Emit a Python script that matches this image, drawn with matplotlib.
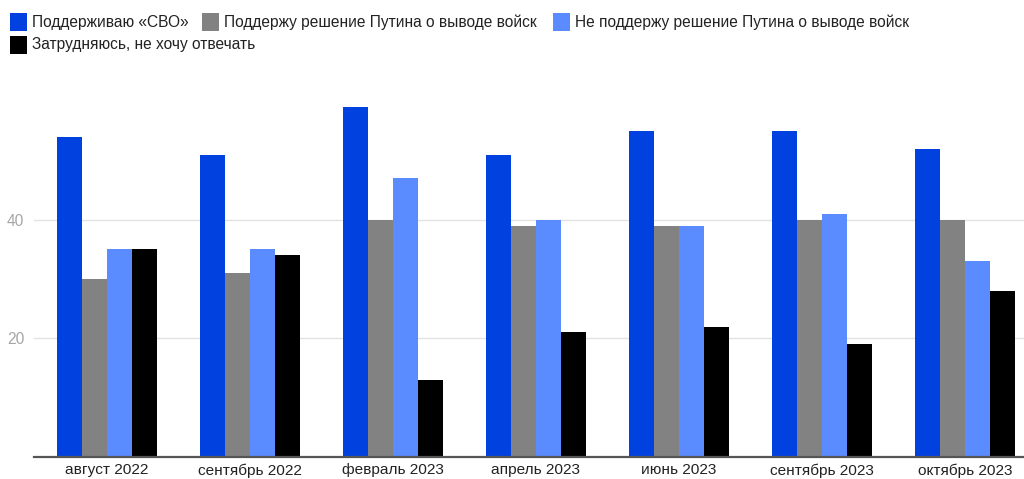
import matplotlib.pyplot as plt
import matplotlib.patches as mpatches
import numpy as np

plt.rcParams['font.family'] = ['Liberation Sans', 'DejaVu Sans']

months = ["август 2022", "сентябрь 2022", "февраль 2023", "апрель 2023",
          "июнь 2023", "сентябрь 2023", "октябрь 2023"]
support_svo = [54, 51, 59, 51, 55, 55, 52]
support_withdrawal = [30, 31, 40, 39, 39, 40, 40]
against_withdrawal = [35, 35, 47, 40, 39, 41, 33]
no_answer = [35, 34, 13, 21, 22, 19, 28]

series = [
    ("Поддерживаю «СВО»", support_svo, "#0041e0"),
    ("Поддержу решение Путина о выводе войск", support_withdrawal, "#828282"),
    ("Не поддержу решение Путина о выводе войск", against_withdrawal, "#5a8cff"),
    ("Затрудняюсь, не хочу отвечать", no_answer, "#000000"),
]

W, H = 1024, 479
fig = plt.figure(figsize=(W / 100, H / 100), dpi=100)
ax = fig.add_axes([34 / W, 22 / H, 1 - 34 / W, 379.5 / H])

x = np.arange(len(months))
width = 0.175
for i, (name, vals, color) in enumerate(series):
    ax.bar(x + (i - 1.5) * width, vals, width, color=color, label=name, zorder=3)

ax.set_xlim(-0.51, 6.413)
ax.set_ylim(0, 64)
ax.set_yticks([20, 40])
ax.set_xticks(x)
ax.set_xticklabels(months, fontsize=11.1, color="#222222")
ax.tick_params(axis='both', length=0)
ax.tick_params(axis='x', pad=4.5)
ax.tick_params(axis='y', labelsize=11.2, labelcolor="#a6a6a6", pad=7)
ax.grid(axis='y', color="#e2e2e2", linewidth=1, zorder=0)
for side in ["top", "right", "left"]:
    ax.spines[side].set_visible(False)
ax.spines["bottom"].set_color("#555555")
ax.spines["bottom"].set_linewidth(1.6)
ax.spines["bottom"].set_zorder(4)

# legend drawn by hand to match the layout
legend_pos = [(10, 22), (202, 22), (553, 22), (10, 45)]
sq = 17
for (name, vals, color), (px, py) in zip(series, legend_pos):
    fig.patches.append(mpatches.Rectangle((px / W, 1 - (py + sq / 2) / H), sq / W, sq / H,
                                          transform=fig.transFigure, facecolor=color,
                                          edgecolor='none'))
    fig.text((px + sq + 5) / W, 1 - py / H, name, fontsize=11.2, color="#222222",
             va='center', ha='left')

plt.savefig("out.png", dpi=100)
